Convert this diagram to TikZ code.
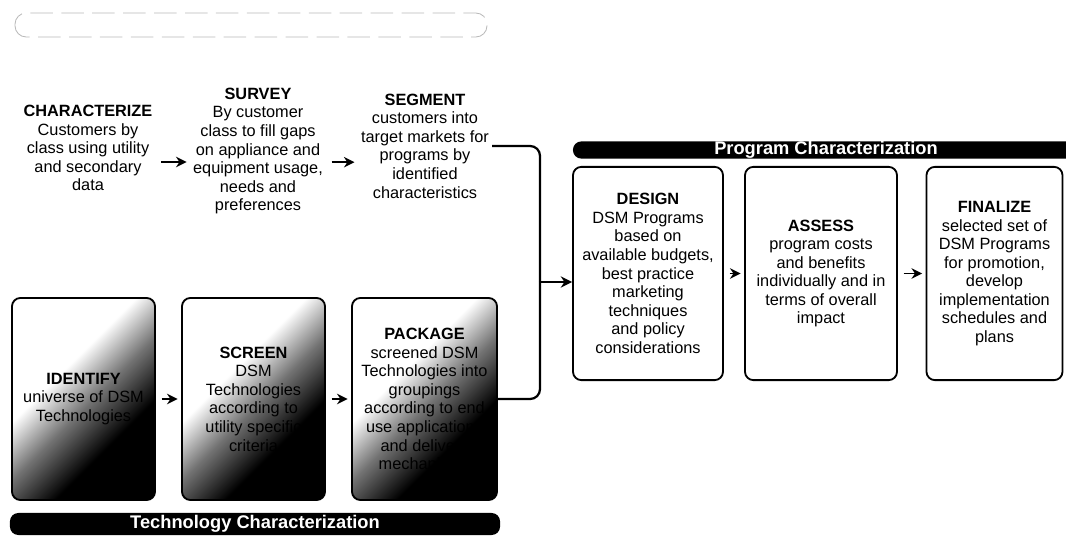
\documentclass[tikz,border=0pt]{standalone}
\usepackage{fontspec}
\setmainfont{Liberation Sans}
\usetikzlibrary{arrows.meta}

% dark in the lower right corner, white in the upper left
\pgfdeclareverticalshading{techfade}{100bp}{color(0bp)=(black); color(35bp)=(black); color(48bp)=(black!55); color(60bp)=(white); color(100bp)=(white)}

\begin{document}
\begin{tikzpicture}[x=0.025cm, y=-0.025cm,
  txt/.style={align=center, font=\fontsize{11.6}{13.2}\selectfont, inner sep=2pt},
  stepbox/.style={txt, draw, fill=white, line width=1.3pt, rounded corners=6pt, minimum height=5.33cm},
  techbox/.style={txt, draw, line width=1.3pt, rounded corners=6pt, minimum height=5.05cm,
                  shade, shading=techfade, shading angle=45},
  bar/.style={fill=black, text=white, rounded corners=6pt, inner sep=0pt,
              font=\fontsize{13}{13}\selectfont\bfseries},
  arr/.style={line width=1.4pt, -{Stealth[length=7.5pt,width=7.5pt]}, shorten <=4pt, shorten >=2.5pt},
  conn/.style={line width=1.6pt, rounded corners=7pt}]
\useasboundingbox (0,0) rectangle (1066,537);

% faded heading bar
\draw[gray!55, line width=0.6pt, dash pattern=on 16pt off 6pt, rounded corners=8pt] (15,13) rectangle (487,37);

% customer side
\node[txt] (charz) at (88,148) {\textbf{CHARACTERIZE}\\Customers by\\class using utility\\and secondary\\data};
\node[txt] (survey) at (258,151) {\textbf{SURVEY}\\By customer\\class to fill gaps\\on appliance and\\equipment usage,\\needs and\\preferences};
\node[txt] (segment) at (425,146) {\textbf{SEGMENT}\\customers into\\target markets for\\programs by\\identified\\characteristics};

\coordinate (c1) at ([yshift=-0.35cm]charz.east);
\coordinate (c2) at ([yshift=-0.28cm]survey.east);
\draw[arr] (c1) -- (c1 -| survey.west);
\draw[arr] (c2) -- (c2 -| segment.west);

% technology side
\node[techbox, minimum width=3.575cm] (identify) at (83.5,399) {\textbf{IDENTIFY}\\universe of DSM\\Technologies};
\node[techbox, minimum width=3.575cm] (screen) at (253.5,399) {\textbf{SCREEN}\\DSM\\Technologies\\according to\\utility specific\\criteria};
\node[techbox, minimum width=3.625cm] (package) at (424.5,399) {\textbf{PACKAGE}\\screened DSM\\Technologies into\\groupings\\according to end\\use applications\\and delivery\\mechanisms};

\draw[arr] (identify) -- (screen);
\draw[arr] (screen) -- (package);

\node[bar, minimum width=12.25cm, minimum height=0.55cm] (techbar) at (255,524) {Technology Characterization};

% program side
\node[bar, minimum width=12.65cm, minimum height=0.43cm] (progbar) at (826,150) {Program Characterization};

\node[stepbox, minimum width=3.75cm] (design) at (648,273.5) {\textbf{DESIGN}\\DSM Programs\\based on\\available budgets,\\best practice\\marketing\\techniques\\and policy\\considerations};
\node[stepbox, minimum width=3.8cm] (assess) at (821,273.5) {\textbf{ASSESS}\\program costs\\and benefits\\individually and in\\terms of overall\\impact};
\node[stepbox, minimum width=3.4cm] (finalize) at (994.5,273.5) {\textbf{FINALIZE}\\selected set of\\DSM Programs\\for promotion,\\develop\\implementation\\schedules and\\plans};

\draw[arr] (design) -- (assess);
\draw[arr] (assess) -- (finalize);

% both paths join and feed the program design
\coordinate (jn) at (540,282);
\draw[conn] (segment.east) -| (jn);
\draw[conn] (package.east) -| (jn);
\draw[conn, -{Stealth[length=8pt,width=8pt]}] (jn) -- (design.west |- jn);
\end{tikzpicture}
\end{document}
